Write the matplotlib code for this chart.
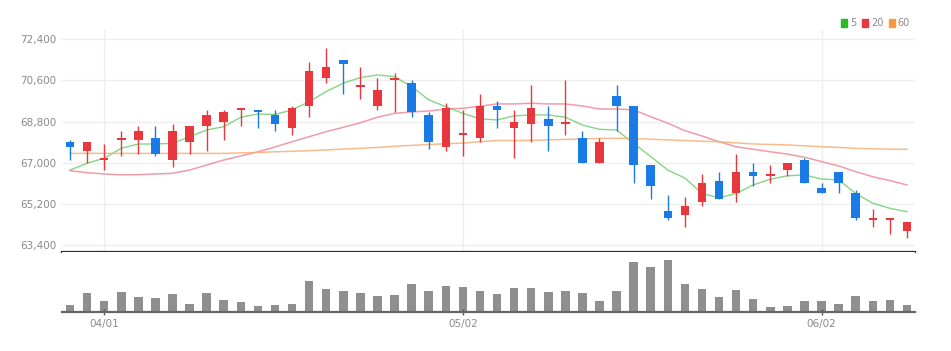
import numpy as np
import matplotlib
matplotlib.use("Agg")
import matplotlib.pyplot as plt
from matplotlib.patches import Patch

# daily candles (price in won)
opens = [67900, 67500, 67100, 68000, 68000, 68100, 67100, 67900, 68600, 68800,
         69300, 69300, 69100, 68500, 69500, 70700, 71500, 70300, 69500, 70600,
         70500, 69100, 67700, 68200, 68100, 69500, 68500, 68700, 68900, 68700,
         68100, 67000, 69900, 69500, 66900, 64900, 64700, 65300, 66200, 65700,
         66600, 66400, 66700, 67100, 65900, 66600, 65700, 64500, 64500, 64000]
highs = [68000, 67900, 67800, 68400, 68600, 68600, 68700, 68600, 69300, 69300,
         69400, 69300, 69300, 69500, 71400, 72000, 71500, 71200, 70700, 70900,
         70600, 69200, 69600, 69300, 70000, 69700, 69300, 70400, 69500, 70600,
         68400, 68100, 70400, 69500, 66900, 65600, 65500, 66500, 66600, 67400,
         67000, 66900, 67000, 67200, 66100, 66600, 65800, 65000, 64600, 64400]
lows = [67100, 67000, 66700, 67300, 67400, 67300, 66800, 67400, 67500, 68000,
        68600, 68500, 68400, 68200, 69000, 70500, 70000, 69800, 69300, 69200,
        69000, 67600, 67500, 67300, 67900, 68500, 67200, 67900, 67500, 68200,
        67000, 67000, 68400, 66100, 65400, 64500, 64200, 65100, 65400, 65300,
        66000, 66100, 66400, 66100, 65700, 65700, 64500, 64200, 63900, 63700]
closes = [67700, 67900, 67200, 68100, 68400, 67400, 68400, 68600, 69100, 69200,
          69400, 69200, 68700, 69400, 71000, 71200, 71300, 70400, 70200, 70700,
          69200, 67900, 69400, 68300, 69500, 69300, 68800, 69400, 68600, 68800,
          67000, 67900, 69500, 66900, 66000, 64600, 65100, 66100, 65400, 66600,
          66400, 66500, 67000, 66100, 65700, 66100, 64600, 64600, 64600, 64400]

# moving averages as drawn on the chart
ma5 = [66680, 66980, 67200, 67630, 67820, 67820, 67850, 68140, 68430, 68580,
       68990, 69130, 69110, 69310, 69670, 70110, 70480, 70720, 70840, 70760,
       70330, 69750, 69450, 69160, 68920, 68870, 69050, 69090, 69090, 68990,
       68650, 68460, 68430, 67850, 67270, 66680, 66330, 65660, 65470, 65660,
       66030, 66280, 66430, 66470, 66290, 66250, 65660, 65230, 65010, 64860]
ma20 = [66650, 66570, 66510, 66470, 66480, 66510, 66540, 66680, 66900, 67120,
        67300, 67480, 67690, 67920, 68140, 68360, 68550, 68750, 68990, 69160,
        69220, 69260, 69350, 69380, 69470, 69570, 69570, 69600, 69570, 69570,
        69480, 69350, 69350, 69310, 69010, 68730, 68400, 68170, 67920, 67700,
        67590, 67480, 67380, 67240, 67050, 66860, 66610, 66390, 66220, 66030]
ma60 = [67410, 67410, 67410, 67410, 67410, 67410, 67410, 67410, 67410, 67410,
        67430, 67450, 67480, 67500, 67530, 67560, 67600, 67630, 67670, 67720,
        67760, 67800, 67830, 67860, 67920, 67970, 67970, 67980, 68000, 68020,
        68040, 68060, 68070, 68060, 68030, 68000, 67970, 67940, 67920, 67870,
        67820, 67800, 67780, 67740, 67700, 67670, 67630, 67610, 67590, 67590]

# volume (thousand shares)
volume = [73, 193, 107, 200, 150, 137, 177, 83, 193, 120,
          100, 57, 67, 77, 313, 230, 210, 187, 160, 170,
          280, 210, 263, 247, 210, 177, 240, 240, 200, 210,
          187, 113, 210, 503, 453, 517, 280, 230, 150, 223,
          130, 47, 57, 107, 107, 83, 160, 107, 120, 67]

tick_pos = [2, 23, 44]
tick_labels = ["04/01", "05/02", "06/02"]
price_ticks = [63400, 65200, 67000, 68800, 70600, 72400]

UP = "#e8383d"
DOWN = "#1a7ae6"
GRID = "#eeeeee"
TXT = "#8a8a8a"
FONT = ["Liberation Sans Narrow", "DejaVu Sans"]

plt.rcParams["font.family"] = FONT

fig = plt.figure(figsize=(9.51, 3.51), dpi=100)
ax = fig.add_axes([0.0652, 0.282, 0.8969, 0.6325])
axv = fig.add_axes([0.0652, 0.111, 0.8969, 0.171])

x = np.arange(len(opens))
o = np.array(opens)
c = np.array(closes)
up = c >= o
colors = np.where(up, UP, DOWN)

# wicks then bodies
ax.vlines(x, lows, highs, colors=colors, lw=1, zorder=3)
body_low = np.minimum(o, c)
body_h = np.maximum(np.abs(c - o), 40)
ax.bar(x, body_h, bottom=body_low, width=0.5, color=colors, zorder=4)

ax.plot(x, ma5, color="#6fcf6f", lw=1, alpha=0.85, zorder=2)
ax.plot(x, ma20, color="#f08a99", lw=1.1, alpha=0.85, zorder=2)
ax.plot(x, ma60, color="#f7b07a", lw=1.1, alpha=0.85, zorder=2)

ax.set_xlim(-0.47, 49.47)
ax.set_ylim(63100, 72800)
ax.set_yticks(price_ticks)
ax.set_yticklabels([f"{p:,}" for p in price_ticks], color=TXT, fontsize=7.5)
ax.tick_params(axis="y", length=0, pad=4)
ax.set_xticks([])
ax.grid(axis="y", color=GRID, lw=1)
for p in tick_pos:
    ax.axvline(p, color=GRID, lw=1, zorder=0)
ax.set_axisbelow(True)
for s in ["top", "left", "right"]:
    ax.spines[s].set_visible(False)
ax.spines["bottom"].set_color("#2b2b2b")
ax.spines["bottom"].set_linewidth(1.6)

# volume panel
axv.bar(x, volume, width=0.5, color="#8f8f8f")
axv.set_xlim(-0.47, 49.47)
axv.set_ylim(0, 600)
axv.set_yticks([])
axv.set_xticks(tick_pos)
axv.set_xticklabels(tick_labels, color=TXT, fontsize=7.5)
axv.tick_params(axis="x", length=4, width=1, color="#555555", pad=3, direction="inout")
for s in ["top", "left", "right"]:
    axv.spines[s].set_visible(False)
axv.spines["bottom"].set_color("#666666")
axv.spines["bottom"].set_linewidth(1.6)

handles = [Patch(color="#2ab92a", label="5"),
           Patch(color="#e8383d", label="20"),
           Patch(color="#f59a40", label="60")]
fig.legend(handles=handles, loc="upper right", bbox_to_anchor=(0.963, 0.965),
           ncol=3, frameon=False, fontsize=7, labelcolor=TXT,
           handlelength=0.6, handleheight=0.9, handletextpad=0.3,
           columnspacing=0.6, borderpad=0.1)

fig.savefig("out.png", dpi=100)
